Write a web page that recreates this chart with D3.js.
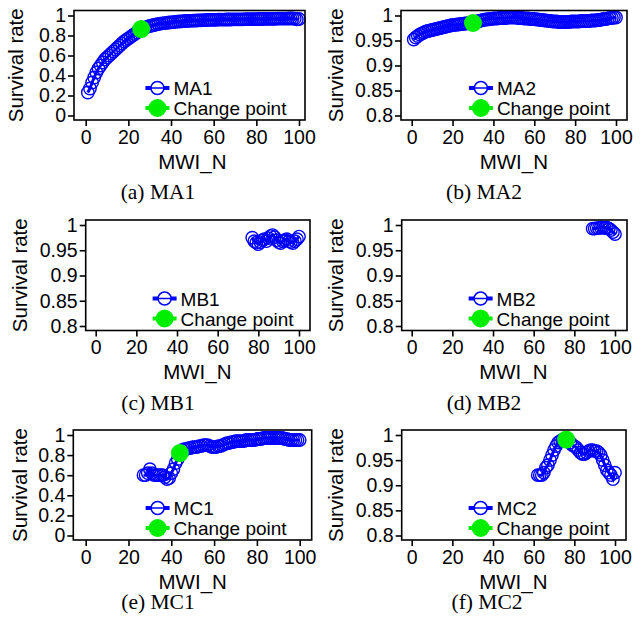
<!DOCTYPE html>
<html>
<head>
<meta charset="utf-8">
<script src="https://cdnjs.cloudflare.com/ajax/libs/d3/7.8.5/d3.min.js"></script>
<style>
  body { margin: 0; background: #fff; }
  svg { display: block; }
  text { font-family: "Liberation Sans", Arial, sans-serif; fill: #000; }
  .cap { font-family: "Liberation Serif", "Times New Roman", serif; }
</style>
</head>
<body>
<svg id="fig" width="642" height="621"></svg>
<script>
// survival rate per MWI_N value
const xTicks = [0, 20, 40, 60, 80, 100]
const yTicksFull = [0, 0.2, 0.4, 0.6, 0.8, 1]
const yTicksZoom = [0.8, 0.85, 0.9, 0.95, 1]

const ma1Start = 1
const ma1 = [
  0.23, 0.27, 0.33, 0.38, 0.43, 0.47, 0.50, 0.53, 0.56, 0.58,
  0.60, 0.62, 0.64, 0.66, 0.68, 0.70, 0.72, 0.74, 0.755, 0.77,
  0.785, 0.80, 0.815, 0.83, 0.845, 0.86, 0.87, 0.88, 0.888, 0.895,
  0.90, 0.905, 0.91, 0.914, 0.918, 0.921, 0.924, 0.927, 0.93, 0.932,
  0.934, 0.936, 0.938, 0.94, 0.942, 0.944, 0.945, 0.946, 0.947, 0.948,
  0.949, 0.950, 0.951, 0.952, 0.953, 0.954, 0.955, 0.956, 0.956, 0.957,
  0.957, 0.958, 0.958, 0.959, 0.959, 0.96, 0.96, 0.96, 0.961, 0.961,
  0.961, 0.962, 0.962, 0.962, 0.963, 0.963, 0.963, 0.964, 0.964, 0.964,
  0.965, 0.965, 0.965, 0.966, 0.966, 0.966, 0.967, 0.967, 0.967, 0.968,
  0.968, 0.968, 0.969, 0.969, 0.97, 0.97, 0.97, 0.968, 0.962, 0.965
]
const ma2Start = 1
const ma2 = [
  0.952, 0.956, 0.959, 0.962, 0.964, 0.966, 0.968, 0.969, 0.970, 0.971,
  0.972, 0.973, 0.974, 0.975, 0.976, 0.977, 0.978, 0.979, 0.980, 0.981,
  0.981, 0.982, 0.982, 0.983, 0.983, 0.984, 0.984, 0.985, 0.985, 0.985,
  0.987, 0.988, 0.989, 0.990, 0.991, 0.992, 0.992, 0.993, 0.993, 0.994,
  0.994, 0.994, 0.995, 0.995, 0.995, 0.995, 0.996, 0.996, 0.996, 0.996,
  0.996, 0.995, 0.995, 0.995, 0.994, 0.994, 0.994, 0.993, 0.993, 0.993,
  0.992, 0.992, 0.991, 0.991, 0.990, 0.990, 0.989, 0.989, 0.988, 0.988,
  0.988, 0.987, 0.987, 0.987, 0.987, 0.987, 0.987, 0.988, 0.988, 0.988,
  0.988, 0.988, 0.989, 0.989, 0.989, 0.989, 0.989, 0.990, 0.990, 0.990,
  0.991, 0.991, 0.992, 0.993, 0.993, 0.994, 0.995, 0.995, 0.996, 0.996
]
const mb1Start = 77
const mb1 = [
  0.975, 0.968, 0.965, 0.962, 0.966, 0.970, 0.972, 0.968, 0.974, 0.978,
  0.980, 0.976, 0.970, 0.966, 0.964, 0.968, 0.970, 0.972, 0.968, 0.966,
  0.964, 0.968, 0.972, 0.977
]
const mb2Start = 89
const mb2 = [
  0.993, 0.993, 0.994, 0.994, 0.995, 0.995, 0.994, 0.995, 0.993, 0.990,
  0.986, 0.982
]
const mc1Start = 27
const mc1 = [
  0.60, 0.60, 0.62, 0.66, 0.62, 0.60, 0.60, 0.60, 0.60, 0.60,
  0.58, 0.56, 0.57, 0.62, 0.66, 0.72, 0.76, 0.82, 0.85, 0.86,
  0.86, 0.87, 0.87, 0.88, 0.88, 0.88, 0.89, 0.89, 0.90, 0.90,
  0.90, 0.89, 0.88, 0.88, 0.88, 0.89, 0.89, 0.90, 0.91, 0.92,
  0.92, 0.93, 0.93, 0.94, 0.94, 0.94, 0.94, 0.94, 0.95, 0.95,
  0.95, 0.95, 0.95, 0.96, 0.96, 0.96, 0.97, 0.97, 0.97, 0.97,
  0.97, 0.97, 0.97, 0.97, 0.97, 0.97, 0.96, 0.96, 0.95, 0.95,
  0.95, 0.95, 0.95, 0.95
]
const mc2Start = 62
const mc2 = [
  0.920, 0.920, 0.920, 0.925, 0.935, 0.940, 0.950, 0.960, 0.970, 0.978,
  0.985, 0.988, 0.990, 0.991, 0.991, 0.990, 0.985, 0.980, 0.978, 0.975,
  0.970, 0.965, 0.962, 0.962, 0.965, 0.968, 0.970, 0.970, 0.968, 0.968,
  0.965, 0.960, 0.950, 0.940, 0.930, 0.925, 0.920, 0.912, 0.925
]

// change points [MWI_N, survival rate]; MB1 and MB2 have none
const cpMA1 = [26, 0.864]
const cpMA2 = [30, 0.985]
const cpMC1 = [44, 0.82]
const cpMC2 = [76, 0.991]

// panel layout (box edges in px)
const panels = [
  { name: 'MA1', cap: '(a) MA1', vals: ma1, start: ma1Start, cp: cpMA1, yt: yTicksFull,
    bx: [74, 305], by: [10.5, 120], xr: [85.7, 299], titleX: 23, capX: 158, capY: 199 },
  { name: 'MA2', cap: '(b) MA2', vals: ma2, start: ma2Start, cp: cpMA2, yt: yTicksZoom,
    bx: [401, 627], by: [10.5, 120], xr: [411.7, 616], titleX: 343, capX: 484, capY: 199 },
  { name: 'MB1', cap: '(c) MB1', vals: mb1, start: mb1Start, cp: null, yt: yTicksZoom,
    bx: [85.7, 310], by: [220, 330.5], xr: [95.7, 299], titleX: 27, capX: 158, capY: 410 },
  { name: 'MB2', cap: '(d) MB2', vals: mb2, start: mb2Start, cp: null, yt: yTicksZoom,
    bx: [401.7, 627], by: [220, 330.5], xr: [411.7, 615], titleX: 343, capX: 484, capY: 410 },
  { name: 'MC1', cap: '(e) MC1', vals: mc1, start: mc1Start, cp: cpMC1, yt: yTicksFull,
    bx: [73.3, 311.7], by: [430, 540], xr: [85.7, 299.7], titleX: 27, capX: 158, capY: 609 },
  { name: 'MC2', cap: '(f) MC2', vals: mc2, start: mc2Start, cp: cpMC2, yt: yTicksZoom,
    bx: [401.7, 626], by: [430, 540], xr: [411.7, 615], titleX: 343, capX: 487, capY: 609 }
]

const blue = '#0000ff'
const green = '#00ee00'
const svg = d3.select('#fig')

panels.forEach(p => {
  const g = svg.append('g')
  const x = d3.scaleLinear().domain([0, 100]).range(p.xr)
  const y = d3.scaleLinear().domain(d3.extent(p.yt)).range([p.by[1] - 4.5, p.by[0] + 5])
  const pts = p.vals.map((v, i) => [p.start + i, v])

  // axes, ticks only (frame drawn below)
  const fmt = d => String(d)
  const ya = g.append('g').attr('transform', `translate(${p.bx[0]},0)`)
    .call(d3.axisLeft(y).tickValues(p.yt).tickFormat(fmt).tickSize(6).tickPadding(2))
  const xa = g.append('g').attr('transform', `translate(0,${p.by[1]})`)
    .call(d3.axisBottom(x).tickValues(xTicks).tickFormat(fmt).tickSize(6).tickPadding(4))
  ;[ya, xa].forEach(a => {
    a.select('.domain').remove()
    a.selectAll('line').attr('stroke', '#000').attr('stroke-width', 1.6)
    a.selectAll('text').style('font-size', '19.5px').style('font-family', '"Liberation Sans", Arial, sans-serif')
  })

  // series: thick line plus open circles
  g.append('path').datum(pts)
    .attr('fill', 'none').attr('stroke', blue).attr('stroke-width', 3)
    .attr('d', d3.line().x(d => x(d[0])).y(d => y(d[1])))
  g.selectAll('circle.pt').data(pts).join('circle').attr('class', 'pt')
    .attr('cx', d => x(d[0])).attr('cy', d => y(d[1])).attr('r', 6.2)
    .attr('fill', 'none').attr('stroke', blue).attr('stroke-width', 1.4)

  if (p.cp) {
    g.append('circle').attr('cx', x(p.cp[0])).attr('cy', y(p.cp[1])).attr('r', 9)
      .attr('fill', green)
  }

  // legend
  const lx = x(28)
  const r1 = p.by[1] - 32, r2 = p.by[1] - 12
  const lg = g.append('g')
  lg.append('line').attr('x1', lx).attr('x2', lx + 24).attr('y1', r1).attr('y2', r1)
    .attr('stroke', blue).attr('stroke-width', 4)
  lg.append('circle').attr('cx', lx + 12).attr('cy', r1).attr('r', 6.5)
    .attr('fill', '#fff').attr('stroke', blue).attr('stroke-width', 1.5)
  lg.append('line').attr('x1', lx + 5).attr('x2', lx + 19).attr('y1', r1).attr('y2', r1)
    .attr('stroke', blue).attr('stroke-width', 1.5)
  lg.append('line').attr('x1', lx).attr('x2', lx + 24).attr('y1', r2).attr('y2', r2)
    .attr('stroke', green).attr('stroke-width', 4)
  lg.append('circle').attr('cx', lx + 12).attr('cy', r2).attr('r', 9).attr('fill', green)
  lg.append('text').attr('x', lx + 28).attr('y', r1 + 7).style('font-size', '19px').text(p.name)
  lg.append('text').attr('x', lx + 28).attr('y', r2 + 7).style('font-size', '19px').text('Change point')

  // frame
  g.append('rect').attr('x', p.bx[0]).attr('y', p.by[0])
    .attr('width', p.bx[1] - p.bx[0]).attr('height', p.by[1] - p.by[0])
    .attr('fill', 'none').attr('stroke', '#000').attr('stroke-width', 1.6)

  // titles
  g.append('text').attr('text-anchor', 'middle')
    .attr('transform', `translate(${p.titleX},${(p.by[0] + p.by[1]) / 2}) rotate(-90)`)
    .style('font-size', '20.5px').text('Survival rate')
  g.append('text').attr('text-anchor', 'middle')
    .attr('x', (p.xr[0] + p.xr[1]) / 2).attr('y', p.by[1] + 48.5)
    .style('font-size', '20.5px').text('MWI_N')
  g.append('text').attr('class', 'cap').attr('text-anchor', 'middle')
    .attr('x', p.capX).attr('y', p.capY)
    .style('font-size', '21.5px').text(p.cap)
})
</script>
</body>
</html>
